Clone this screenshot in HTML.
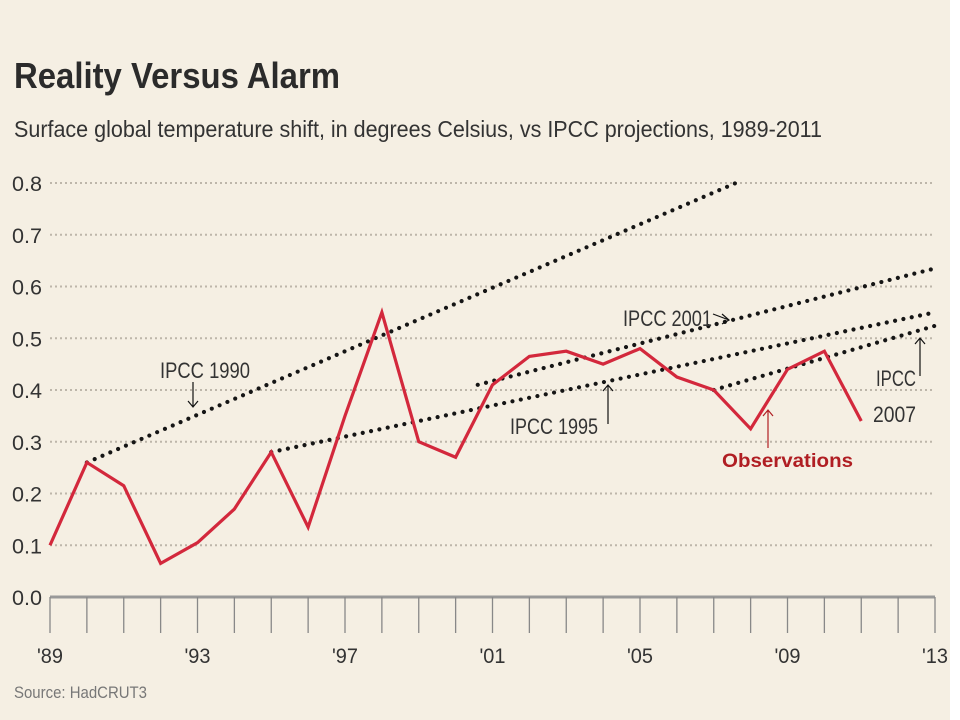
<!DOCTYPE html>
<html><head><meta charset="utf-8"><style>
html,body{margin:0;padding:0;background:#fff}
svg{display:block}
text{font-family:"Liberation Sans",sans-serif}
</style></head><body>
<svg id="c" width="960" height="720">
<rect x="0" y="0" width="950" height="720" fill="#f5efe3"/>
<text x="14" y="88" font-size="36" font-weight="bold" fill="#2b2b2b" textLength="326" lengthAdjust="spacingAndGlyphs" font-family="Liberation Serif">Reality Versus Alarm</text>
<text x="14" y="137" font-size="23" fill="#333" textLength="808" lengthAdjust="spacingAndGlyphs">Surface global temperature shift, in degrees Celsius, vs IPCC projections, 1989-2011</text>
<g id="grid"></g><g id="axis"></g><g id="proj"></g><g id="obs"></g>
<g fill="#333" font-size="22">
<text x="160" y="378" textLength="90" lengthAdjust="spacingAndGlyphs">IPCC 1990</text>
<text x="623" y="326" textLength="89" lengthAdjust="spacingAndGlyphs">IPCC 2001</text>
<text x="510" y="434" textLength="88" lengthAdjust="spacingAndGlyphs">IPCC 1995</text>
<text x="876" y="386" textLength="40" lengthAdjust="spacingAndGlyphs">IPCC</text>
<text x="873" y="422" textLength="43" lengthAdjust="spacingAndGlyphs">2007</text>
<text x="722" y="467" font-size="19" font-weight="bold" fill="#b01e23" textLength="131" lengthAdjust="spacingAndGlyphs">Observations</text>
</g>
<g stroke="#111" stroke-width="1.2" fill="none">
<path d="M193 382V407M188 401L193 407L198 401"/>
<path d="M713 314L729 320M722 314L729 320L722 324"/>
<path d="M608 424V385M603 391L608 385L613 391"/>
<path d="M920 376V338M915 344L920 338L925 344"/>
<path d="M768 448V410M763 416L768 410L773 416" stroke="#b01e23"/>
</g>
<text x="14" y="698" font-size="17" fill="#777" textLength="133" lengthAdjust="spacingAndGlyphs">Source: HadCRUT3</text>
</svg>
<script>
const years=[1989,1990,1991,1992,1993,1994,1995,1996,1997,1998,1999,2000,2001,2002,2003,2004,2005,2006,2007,2008,2009,2010,2011];
const obsValues=[0.10,0.26,0.215,0.065,0.105,0.17,0.28,0.135,0.35,0.55,0.30,0.27,0.41,0.465,0.475,0.45,0.48,0.425,0.40,0.325,0.44,0.475,0.34];
const yTicks=[0,0.1,0.2,0.3,0.4,0.5,0.6,0.7,0.8];
const yTickLabels=["0.0","0.1","0.2","0.3","0.4","0.5","0.6","0.7","0.8"];
const xTickLabels=["'89","'93","'97","'01","'05","'09","'13"];
const xTickYears=[1989,1993,1997,2001,2005,2009,2013];
const projNames=["ipcc-1990","ipcc-2001","ipcc-1995","ipcc-2007"];
const projStartYear=[1990,2000.6,1995,2007];
const projStartVal=[0.26,0.41,0.28,0.40];
const projEndYear=[2007.6,2013,2013,2013];
const projEndVal=[0.80,0.635,0.55,0.524];
const NS="http://www.w3.org/2000/svg";
const X0=50,X1=935,Y0=597,Y1=183;
const x=v=>X0+(v-1989)/(2013-1989)*(X1-X0);
const y=v=>Y0-v/0.8*(Y0-Y1);
function mk(tag,parent,attrs){const e=document.createElementNS(NS,tag);for(const k in attrs)e.setAttribute(k,attrs[k]);parent.appendChild(e);return e;}
const grid=document.getElementById('grid'),axis=document.getElementById('axis'),proj=document.getElementById('proj'),obs=document.getElementById('obs');
yTicks.forEach((t,i)=>{
  if(i>0){const l=mk('line',grid,{x1:X0,x2:X1,y1:y(t),y2:y(t),stroke:'#bdb6aa','stroke-width':2,'stroke-dasharray':'2 3'});
  
  }
  const tx=mk('text',grid,{x:12,y:y(t)+8,'font-size':21,fill:'#333',textLength:30,lengthAdjust:'spacingAndGlyphs'});
  tx.textContent=yTickLabels[i];
  
  
});
const base=mk('line',axis,{x1:X0,x2:X1,y1:Y0,y2:Y0,stroke:'#999','stroke-width':3});


for(let yr=1989;yr<=2013;yr++){
  const t=mk('line',axis,{x1:x(yr),x2:x(yr),y1:Y0,y2:Y0+36,stroke:'#888','stroke-width':1.3});
  
  
}
xTickYears.forEach((yr,i)=>{
  const tx=mk('text',axis,{x:x(yr),y:Y0+66,'font-size':21,fill:'#333','text-anchor':'middle',textLength:26,lengthAdjust:'spacingAndGlyphs'});
  tx.textContent=xTickLabels[i];
  
  
});
projNames.forEach((n,i)=>{
  const l=mk('line',proj,{x1:x(projStartYear[i]),y1:y(projStartVal[i]),x2:x(projEndYear[i]),y2:y(projEndVal[i]),stroke:'#151515','stroke-width':4.2,'stroke-linecap':'round','stroke-dasharray':'0 8.5'});
  
  
});
const pts=years.map((yr,i)=>x(yr)+','+y(obsValues[i])).join(' ');
const pl=mk('polyline',obs,{points:pts,fill:'none',stroke:'#d3283c','stroke-width':3.2,'stroke-linejoin':'miter'});


</script>
</body></html>
